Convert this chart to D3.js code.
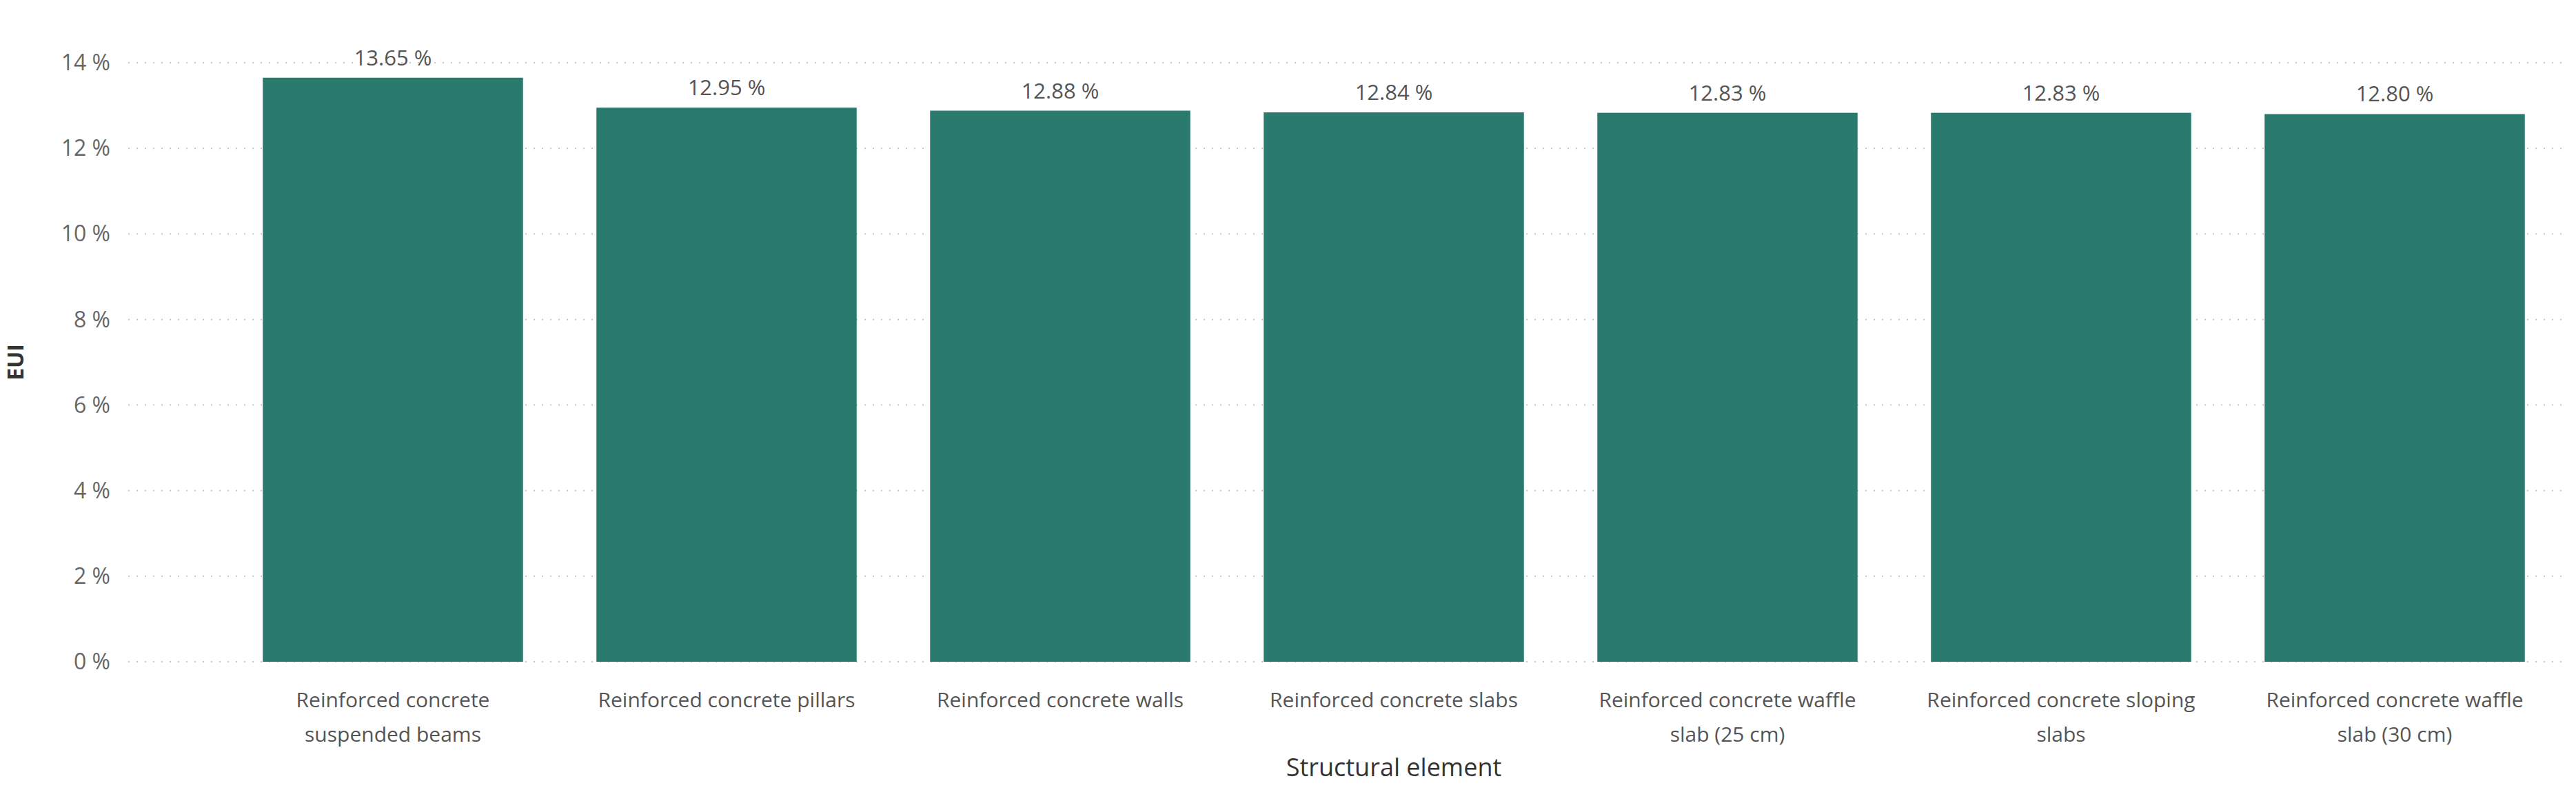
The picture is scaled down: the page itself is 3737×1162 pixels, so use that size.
<!DOCTYPE html>
<html><head><meta charset="utf-8">
<script src="https://cdn.jsdelivr.net/npm/d3@7"></script>
<style>body{margin:0;background:#fff}svg{display:block}</style>
</head><body>
<script>
const categories = [
  ["Reinforced concrete","suspended beams"],
  ["Reinforced concrete pillars"],
  ["Reinforced concrete walls"],
  ["Reinforced concrete slabs"],
  ["Reinforced concrete waffle","slab (25 cm)"],
  ["Reinforced concrete sloping","slabs"],
  ["Reinforced concrete waffle","slab (30 cm)"]
];
const values = [13.65, 12.95, 12.88, 12.84, 12.83, 12.83, 12.80];
const yTicks = [0,2,4,6,8,10,12,14];
const xTitle = "Structural element";
const yTitle = "EUI";

const W=3737,H=1162;
const svg=d3.select("body").append("svg").attr("width",W).attr("height",H)
  .style("font-family","'Open Sans', 'Noto Sans', sans-serif");
const idx=categories.map((d,i)=>i);
const x=d3.scaleBand().domain(idx).range([328,3716]).paddingInner(0.22).paddingOuter(0.11);
const y=d3.scaleLinear().domain([0,14]).range([960,91]);

svg.append("g").selectAll("line").data(yTicks).join("line")
  .attr("x1",186).attr("x2",3718).attr("y1",d=>y(d)).attr("y2",d=>y(d))
  .attr("stroke","#c8c8c8").attr("stroke-width",2).attr("stroke-dasharray","2,10");
svg.append("g").selectAll("text").data(yTicks).join("text")
  .attr("x",160).attr("y",d=>y(d)).attr("dy","0.35em").attr("text-anchor","end")
  .attr("font-size",32).attr("fill","#666").text(d=>d+" %");
svg.append("g").selectAll("rect").data(values).join("rect")
  .attr("x",(d,i)=>x(i)).attr("width",x.bandwidth())
  .attr("y",d=>y(d)).attr("height",d=>y(0)-y(d)).attr("fill","#2a7b6e");
svg.append("g").selectAll("text").data(values).join("text")
  .attr("x",(d,i)=>x(i)+x.bandwidth()/2).attr("y",d=>y(d)-18).attr("text-anchor","middle")
  .attr("font-size",31).attr("fill","#555").text(d=>d.toFixed(2)+" %");
const cg=svg.append("g").selectAll("text").data(categories).join("text")
  .attr("x",(d,i)=>x(i)+x.bandwidth()/2).attr("y",1026).attr("text-anchor","middle")
  .attr("font-size",30).attr("fill","#555");
cg.selectAll("tspan").data(d=>d).join("tspan")
  .attr("x",function(){return this.parentNode.getAttribute("x");})
  .attr("dy",(d,i)=>i?"1.65em":0).text(d=>d);
svg.append("text").attr("x",(328+3716)/2).attr("y",1126).attr("text-anchor","middle")
  .attr("font-size",36).attr("fill","#333").text(xTitle);
svg.append("text").attr("transform","translate(34,"+(y(7))+") rotate(-90)")
  .attr("text-anchor","middle").attr("font-size",32).attr("font-weight","bold").attr("fill","#333").text(yTitle);
</script>
</body></html>
